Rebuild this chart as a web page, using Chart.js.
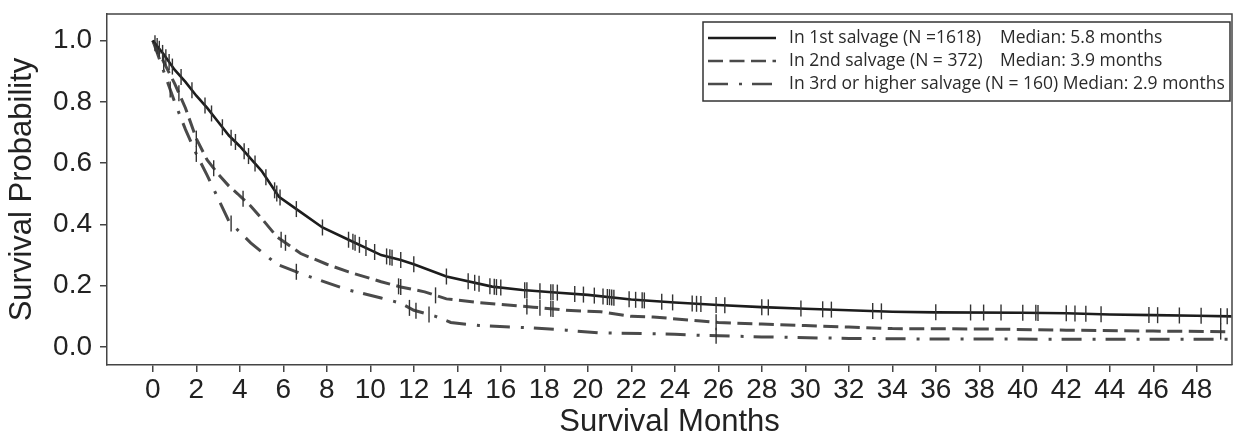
<!DOCTYPE html>
<html><head><meta charset="utf-8">
<script src="https://cdn.jsdelivr.net/npm/chart.js@4.4.1/dist/chart.umd.min.js"></script>
<style>html,body{margin:0;padding:0;background:#fff;}#wrap{width:1233px;height:441px;}</style>
</head><body><div id="wrap"><canvas id="c" width="1233" height="441"></canvas></div>
<script>
// ---- data ----
const xTicks = [0,2,4,6,8,10,12,14,16,18,20,22,24,26,28,30,32,34,36,38,40,42,44,46,48];
const yTicks = [0,0.2,0.4,0.6,0.8,1.0];
const yTickLabels = ['0.0','0.2','0.4','0.6','0.8','1.0'];

const legendLabels = ['In 1st salvage (N =1618)', 'In 2nd salvage (N = 372)', 'In 3rd or higher salvage (N = 160)'];
const legendMedians = ['Median: 5.8 months', 'Median: 3.9 months', 'Median: 2.9 months'];

const t1 = [0,0.5,1,1.5,2,2.5,3,3.5,4,4.5,5,5.8,6.8,7.8,9,10.5,11.4,12,13.5,15.6,17,18.5,20,22,24,26,28,30,32,34,36,40,42,44,46,48,49.6];
const s1 = [1.0,0.955,0.905,0.865,0.82,0.78,0.735,0.69,0.655,0.615,0.575,0.49,0.44,0.39,0.35,0.30,0.284,0.27,0.23,0.197,0.186,0.178,0.17,0.155,0.145,0.137,0.13,0.125,0.12,0.115,0.113,0.112,0.11,0.106,0.104,0.102,0.10];

const t2 = [0,0.5,1,1.5,2,2.5,3,3.5,3.9,4.5,5,5.7,6.8,8,9,10.5,11.4,12.5,13.5,15,17.5,19,20.6,22,23,25.2,26,28,30,32,34,38,42,46,49.6];
const s2 = [1.0,0.93,0.86,0.78,0.68,0.61,0.565,0.525,0.50,0.46,0.42,0.36,0.305,0.27,0.245,0.213,0.196,0.18,0.157,0.145,0.13,0.12,0.115,0.10,0.098,0.085,0.08,0.075,0.07,0.065,0.06,0.059,0.055,0.052,0.05];

const t3 = [0,0.5,1,1.5,2,2.5,2.9,3.5,4.5,5.7,6.8,8,9,10.5,11.4,12,13,13.7,15,17.5,19,20.5,24,25.2,28,32,36,49.6];
const s3 = [1.0,0.90,0.80,0.71,0.63,0.56,0.50,0.41,0.34,0.27,0.24,0.21,0.186,0.16,0.143,0.12,0.10,0.08,0.07,0.062,0.055,0.046,0.042,0.038,0.033,0.028,0.026,0.025];

const cens1 = [0.1,0.2,0.3,0.45,0.6,0.75,0.9,1.3,1.8,2.4,2.7,3.2,3.6,3.8,4.2,4.4,4.7,5.2,5.6,5.7,5.85,6.6,7.8,9.0,9.2,9.3,9.5,9.8,10.2,10.75,10.9,11.0,11.4,12.0,13.5,14.5,14.8,15.0,15.5,15.7,15.8,16.0,17.1,17.2,17.8,18.3,18.4,18.6,19.4,19.8,20.3,20.7,20.9,21.0,21.1,21.2,21.9,22.2,22.5,22.6,23.4,23.9,24.8,25.0,25.2,25.9,26.3,28.0,28.3,29.8,30.8,31.2,33.1,33.5,36.0,37.6,38.2,39.0,40.0,40.6,40.7,42.0,42.4,42.9,43.6,45.8,46.2,47.2,48.2,49.1,49.4];
const cens2 = [0.5,1.2,2.0,2.8,4.15,5.9,6.1,11.3,11.4,13.0,17.2,17.8,18.3,18.4,25.9,49.1];
const cens3 = [0.8,2.0,3.6,6.6,11.8,12.1,12.7,25.9];

// ---- helpers ----
function pts(t, s){ return t.map((v,i)=>({x:v, y:s[i]})); }
function onCurve(t, s, c){
  return c.map(tc=>{
    let i = 0;
    while (i < t.length-2 && t[i+1] < tc) i++;
    const f = (tc - t[i]) / (t[i+1] - t[i]);
    return {x: tc, y: s[i] + f*(s[i+1]-s[i])};
  });
}

const FONT = "'Liberation Sans', Arial, sans-serif";
Chart.defaults.font.family = FONT;

const lineCol = ['#1c1c1c', '#4a4a4a', '#4a4a4a'];
const dashes = [[], [15, 6.5], [20, 11, 3, 10]];

const curveDs = (t, s, i) => ({
  type: 'line', data: pts(t, s), borderColor: lineCol[i], borderWidth: i===0 ? 2.6 : 3,
  borderDash: dashes[i], pointRadius: 0, fill: false, tension: 0, order: 2
});
const censDs = (t, s, c) => ({
  type: 'scatter', data: onCurve(t, s, c), pointStyle: 'line', rotation: 90, pointRadius: 8,
  borderColor: '#333', borderWidth: 1.4, backgroundColor: '#333', showLine: false, order: 1
});

const framePlugin = {
  id: 'frame',
  afterDraw(chart){
    const ctx = chart.ctx, a = chart.chartArea;
    ctx.save();
    ctx.strokeStyle = '#444'; ctx.lineWidth = 1.5;
    ctx.beginPath();
    ctx.moveTo(a.left, a.top); ctx.lineTo(a.right, a.top); ctx.lineTo(a.right, a.bottom);
    ctx.stroke();
    // legend box
    const bx = 703, by = 22, bw = 527, bh = 79;
    ctx.fillStyle = '#fff';
    ctx.fillRect(bx, by, bw, bh);
    ctx.strokeStyle = '#333'; ctx.lineWidth = 1.5;
    ctx.strokeRect(bx, by, bw, bh);
    const rows = [38, 61, 84];
    ctx.font = "17.5px 'Open Sans', sans-serif";
    ctx.textBaseline = 'middle';
    ctx.fillStyle = '#2a2a2a';
    rows.forEach((ry, i) => {
      ctx.save();
      ctx.strokeStyle = lineCol[i]; ctx.lineWidth = 2.6;
      ctx.setLineDash(dashes[i]);
      ctx.beginPath(); ctx.moveTo(708, ry); ctx.lineTo(776, ry); ctx.stroke();
      ctx.restore();
      if (i < 2) {
        ctx.fillText(legendLabels[i], 789, ry);
        ctx.fillText(legendMedians[i], 1000, ry);
      } else {
        ctx.fillText(legendLabels[i] + ' ' + legendMedians[i], 789, ry);
      }
    });
    ctx.restore();
  }
};

new Chart(document.getElementById('c'), {
  data: {
    datasets: [
      curveDs(t1, s1, 0), curveDs(t2, s2, 1), curveDs(t3, s3, 2),
      censDs(t1, s1, cens1), censDs(t2, s2, cens2), censDs(t3, s3, cens3)
    ]
  },
  options: {
    responsive: false, animation: false, devicePixelRatio: 1,
    layout: { autoPadding: false, padding: { left: 0, right: 1, top: 14, bottom: 0 } },
    plugins: { legend: { display: false }, tooltip: { enabled: false } },
    scales: {
      x: {
        type: 'linear', min: -2.106, max: 49.62,
        afterBuildTicks: s => { s.ticks = xTicks.map(v => ({ value: v })); },
        afterFit: s => { s.height = 76; s.paddingLeft = 0; s.paddingRight = 0; },
        ticks: { font: { size: 28 }, color: '#222', padding: 1, autoSkip: false, maxRotation: 0,
                 callback: (v) => String(v) },
        grid: { display: true, drawOnChartArea: false, drawTicks: true, tickLength: 7, color: '#444', lineWidth: 1.5 },
        border: { display: true, color: '#444', width: 1.5 },
        title: { display: true, text: 'Survival Months', font: { size: 31 }, color: '#222', padding: { top: 0, bottom: 0 } }
      },
      y: {
        type: 'linear', min: -0.0587, max: 1.0865,
        afterBuildTicks: s => { s.ticks = yTicks.map(v => ({ value: v })); },
        afterFit: s => { s.width = 107; s.paddingTop = 0; s.paddingBottom = 0; },
        ticks: { font: { size: 28 }, color: '#222', padding: 8,
                 callback: (v, i) => yTickLabels[i] },
        grid: { display: true, drawOnChartArea: false, drawTicks: true, tickLength: 7, color: '#444', lineWidth: 1.5 },
        border: { display: true, color: '#444', width: 1.5 },
        title: { display: true, text: 'Survival Probability', font: { size: 31 }, color: '#222', padding: { top: 4, bottom: 0 } }
      }
    }
  },
  plugins: [framePlugin]
});
</script>
</body></html>
